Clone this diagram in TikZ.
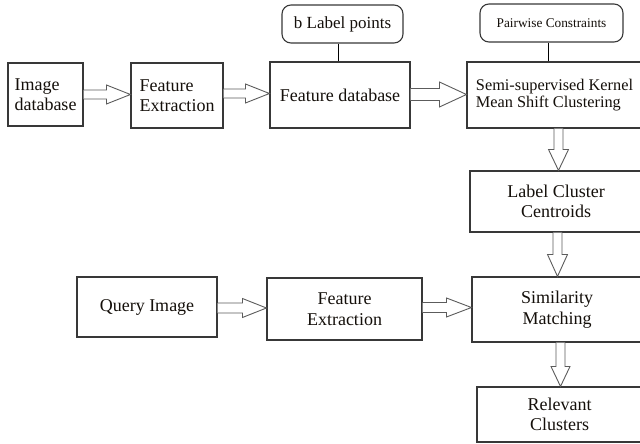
\documentclass[tikz,border=0pt]{standalone}
\usepackage{fontspec}
\setmainfont{Liberation Serif}
\usetikzlibrary{calc}
\definecolor{boxc}{rgb}{0.22,0.22,0.22}
\definecolor{arrc}{rgb}{0.36,0.36,0.36}
\definecolor{txtc}{rgb}{0.08,0.06,0.04}
\newcommand\harr[6]{% from, to, y, headlen, shaft half, head half
  \draw[barrow] let \p1=(#1.east), \p2=(#2.west) in
   (\x1,#3+#5) -- (\x2-#4,#3+#5) -- (\x2-#4,#3+#6) -- (\x2,#3) --
   (\x2-#4,#3-#6) -- (\x2-#4,#3-#5) -- (\x1,#3-#5);}
\newcommand\varr[6]{% from, to, x, headlen, shaft half, head half
  \draw[barrow] let \p1=(#1.south), \p2=(#2.north) in
   (#3-#5,\y1) -- (#3-#5,\y2+#4) -- (#3-#6,\y2+#4) -- (#3,\y2) --
   (#3+#6,\y2+#4) -- (#3+#5,\y2+#4) -- (#3+#5,\y1);}
\begin{document}
\begin{tikzpicture}[x=1pt,y=1pt,
  box/.style={draw=boxc, line width=1.1pt, inner sep=0pt, text=txtc,
    font=\fontsize{18}{20.5}\selectfont},
  rbox/.style={box, rounded corners=9pt},
  barrow/.style={draw=arrc, line width=0.9pt, fill=white, line join=miter},
  link/.style={draw=black, line width=0.8pt}]
\useasboundingbox (0,0) rectangle (640,-444);
\clip (0,0) rectangle (640,-444);
% top row
\node[box, minimum width=75, minimum height=63, align=left] (id) at (45.5,-94.5) {Image\\database};
\node[box, minimum width=92, minimum height=65, align=left] (fe1) at (177,-95.5) {Feature\\Extraction};
\node[box, minimum width=140, minimum height=66] (fd) at (340,-95) {Feature database};
\node[box, minimum width=175, minimum height=66, align=left,
  font=\fontsize{16.3}{17}\selectfont] (semi) at (554.5,-95) {Semi-supervised Kernel\\Mean Shift Clustering};
\node[rbox, minimum width=121, minimum height=38,
  font=\fontsize{17}{20}\selectfont] (blp) at (342.5,-24) {b Label points};
\node[rbox, minimum width=143, minimum height=38,
  font=\fontsize{13.3}{16}\selectfont] (pc) at (551.5,-23) {Pairwise Constraints};
% right column
\node[box, minimum width=172, minimum height=61, align=center] (lcc) at (556,-201.5) {Label Cluster\\Centroids};
\node[box, minimum width=170, minimum height=65, align=center] (sm) at (557,-309.5) {Similarity\\Matching};
\node[box, minimum width=165, minimum height=55, align=center] (rc) at (559.5,-414.5) {Relevant\\Clusters};
% query row
\node[box, minimum width=140, minimum height=60] (qi) at (147,-307) {Query Image};
\node[box, minimum width=155, minimum height=62, align=center] (fe2) at (344.5,-309) {Feature\\Extraction};
% links
\draw[link] let \p1=(blp.south), \p2=(fd.north) in (338,\y1) -- (338,\y2);
\draw[link] let \p1=(pc.south), \p2=(semi.north) in (548,\y1) -- (548,\y2);
% block arrows
\harr{id}{fe1}{-94.5}{24}{4.5}{9.5}
\harr{fe1}{fd}{-93.5}{24}{4.5}{9.5}
\harr{fd}{semi}{-94.5}{27}{6}{12.5}
\harr{qi}{fe2}{-308}{24}{5}{9.5}
\harr{fe2}{sm}{-307.5}{25}{5}{9.5}
\varr{semi}{lcc}{558.5}{21}{4.5}{10}
\varr{lcc}{sm}{557.5}{22}{4.5}{10}
\varr{sm}{rc}{560.5}{20}{4.5}{9.5}
\end{tikzpicture}
\end{document}
